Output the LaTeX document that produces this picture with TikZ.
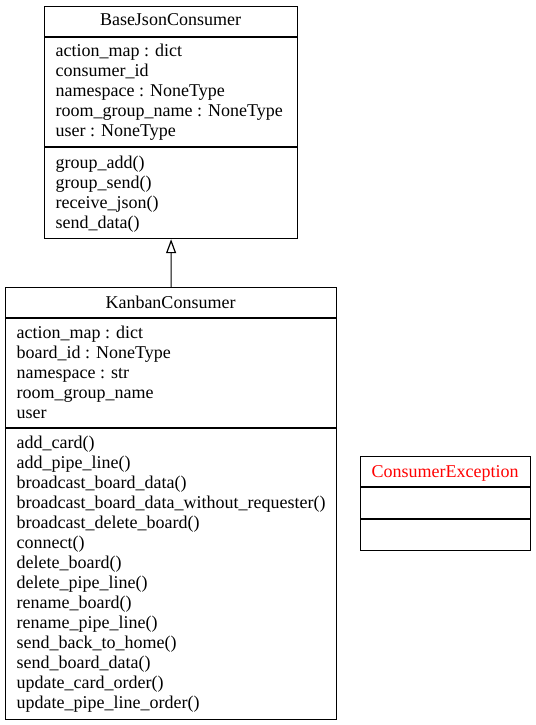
\documentclass[tikz,border=0pt]{standalone}
\usepackage{fontspec}
\setmainfont{Liberation Serif}
\usetikzlibrary{arrows.meta}
\begin{document}
\begin{tikzpicture}[x=1bp,y=-1bp,line width=1.2bp,
  classbox/.style={draw,anchor=north west,inner sep=0pt},
  member/.style={anchor=base west,inner sep=0pt,font=\fontsize{18bp}{20bp}\selectfont},
  cname/.style={anchor=base,inner sep=0pt,font=\fontsize{18bp}{20bp}\selectfont}]
 \useasboundingbox (0,0) rectangle (536,725);
 % BaseJsonConsumer
 \node[classbox,minimum width=253bp,minimum height=232bp] (base) at (44,6) {};
 \draw (44,37)--(297,37) (44,147)--(297,147);
 \node[cname] (base-name) at (170.5,26) {BaseJsonConsumer};
 \foreach \t [count=\i] in {action\_map : dict,consumer\_id,namespace : NoneType,
   room\_group\_name : NoneType,user : NoneType}
   \node[member] (base-a\i) at (55,37+20*\i) {\t};
 \foreach \t [count=\i] in {group\_add(),group\_send(),receive\_json(),send\_data()}
   \node[member] (base-m\i) at (55,148+20*\i) {\t};
 % KanbanConsumer
 \node[classbox,minimum width=331bp,minimum height=432bp] (kanban) at (5,287) {};
 \draw (5,318)--(336,318) (5,428)--(336,428);
 \node[cname] (kanban-name) at (170.5,308) {KanbanConsumer};
 \foreach \t [count=\i] in {action\_map : dict,board\_id : NoneType,namespace : str,
   room\_group\_name,user}
   \node[member] (kanban-a\i) at (16,318+20*\i) {\t};
 \foreach \t [count=\i] in {add\_card(),add\_pipe\_line(),broadcast\_board\_data(),
   broadcast\_board\_data\_without\_requester(),broadcast\_delete\_board(),connect(),
   delete\_board(),delete\_pipe\_line(),rename\_board(),rename\_pipe\_line(),
   send\_back\_to\_home(),send\_board\_data(),update\_card\_order(),
   update\_pipe\_line\_order()}
   \node[member] (kanban-m\i) at (16,428+20*\i) {\t};
 % ConsumerException
 \node[classbox,minimum width=170bp,minimum height=94bp] (cexc) at (360,456) {};
 \draw (360,487)--(530,487) (360,519)--(530,519);
 \node[cname,text=red] (cexc-name) at (445,477) {ConsumerException};
 % inheritance
 \draw[-{Triangle[open,length=14bp,width=10bp]}] (kanban.north) -- (base.south);
\end{tikzpicture}
\end{document}
